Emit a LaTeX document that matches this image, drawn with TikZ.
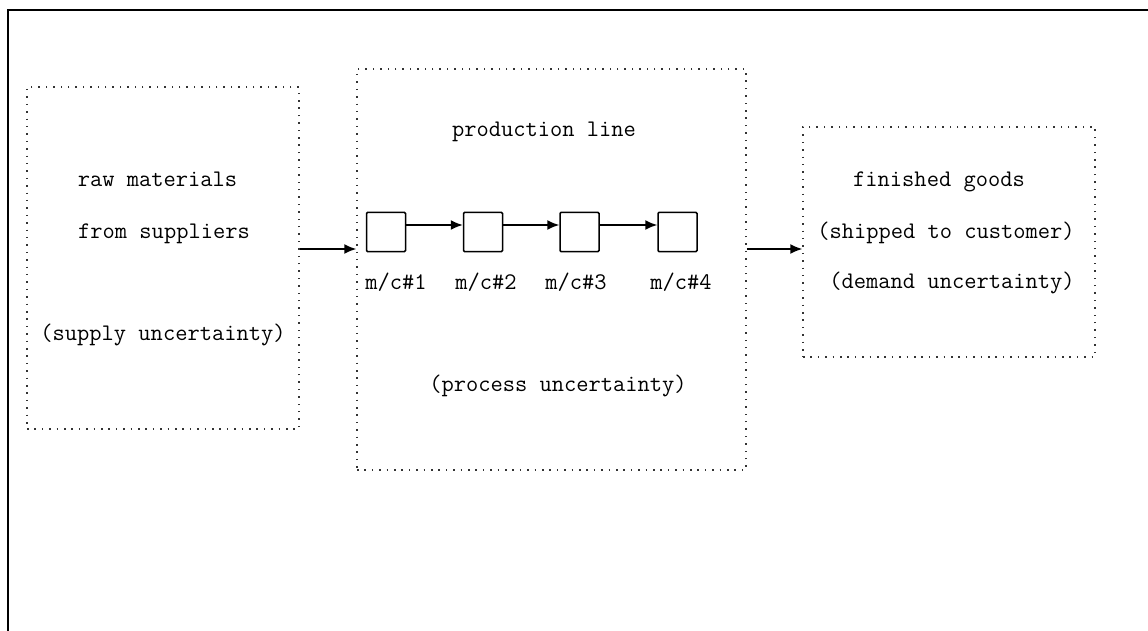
\documentclass[tikz,border=0pt]{standalone}
\usetikzlibrary{arrows.meta}
\tikzset{
  area/.style={draw=black!80,line width=1.5pt,dash pattern=on 1.5pt off 5.9pt,inner sep=0pt},
  machine/.style={draw,line width=1.5pt,rounded corners=1pt,minimum size=39pt,inner sep=0pt},
  flow/.style={-{Latex[length=12pt,width=10pt]},line width=1.5pt},
  txt/.style={font=\ttfamily\fontsize{23.8}{28}\selectfont,anchor=base,inner sep=0pt}
}

\begin{document}
\begin{tikzpicture}[x=1pt,y=-1pt]
    \useasboundingbox (0,0) rectangle (1148,631);
    \draw[line width=2pt] (8,631) -- (8,10) -- (1148,10);
    % the three stages
    \node[area,minimum width=272pt,minimum height=342pt] (raw) at (163,258) {};
    \node[area,minimum width=389pt,minimum height=401pt] (prod) at (551.5,269.5) {};
    \node[area,minimum width=292pt,minimum height=230pt] (fin) at (949,242) {};
    \node[txt] (rawA) at (157.5,187) {raw materials};
    \node[txt] (rawB) at (164,238) {from suppliers};
    \node[txt] (rawC) at (163,340) {(supply uncertainty)};
    \node[txt] (prodA) at (544,137) {production line};
    \node[txt] (prodB) at (558,391) {(process uncertainty)};
    \node[txt] (finA) at (939,187) {finished goods};
    \node[txt] (finB) at (946,238) {(shipped to customer)};
    \node[txt] (finC) at (952,288) {(demand uncertainty)};
    % machines on the line
    \foreach \i/\x/\lx in {1/386/396,2/483/486,3/579.5/576,4/677.5/681} {
      \node[machine] (m\i) at (\x,232) {};
      \node[txt] (l\i) at (\lx,289) {m/c\#\i};
    }
    \foreach \a/\b in {m1/m2,m2/m3,m3/m4}
      \draw[flow] ([yshift=7pt]\a.east) -- ([yshift=7pt]\b.west);
    \coordinate (lvl) at (0,249);
    \draw[flow] (raw.east |- lvl) -- (prod.west |- lvl);
    \draw[flow] (prod.east |- lvl) -- (fin.west |- lvl);
\end{tikzpicture}
\end{document}
